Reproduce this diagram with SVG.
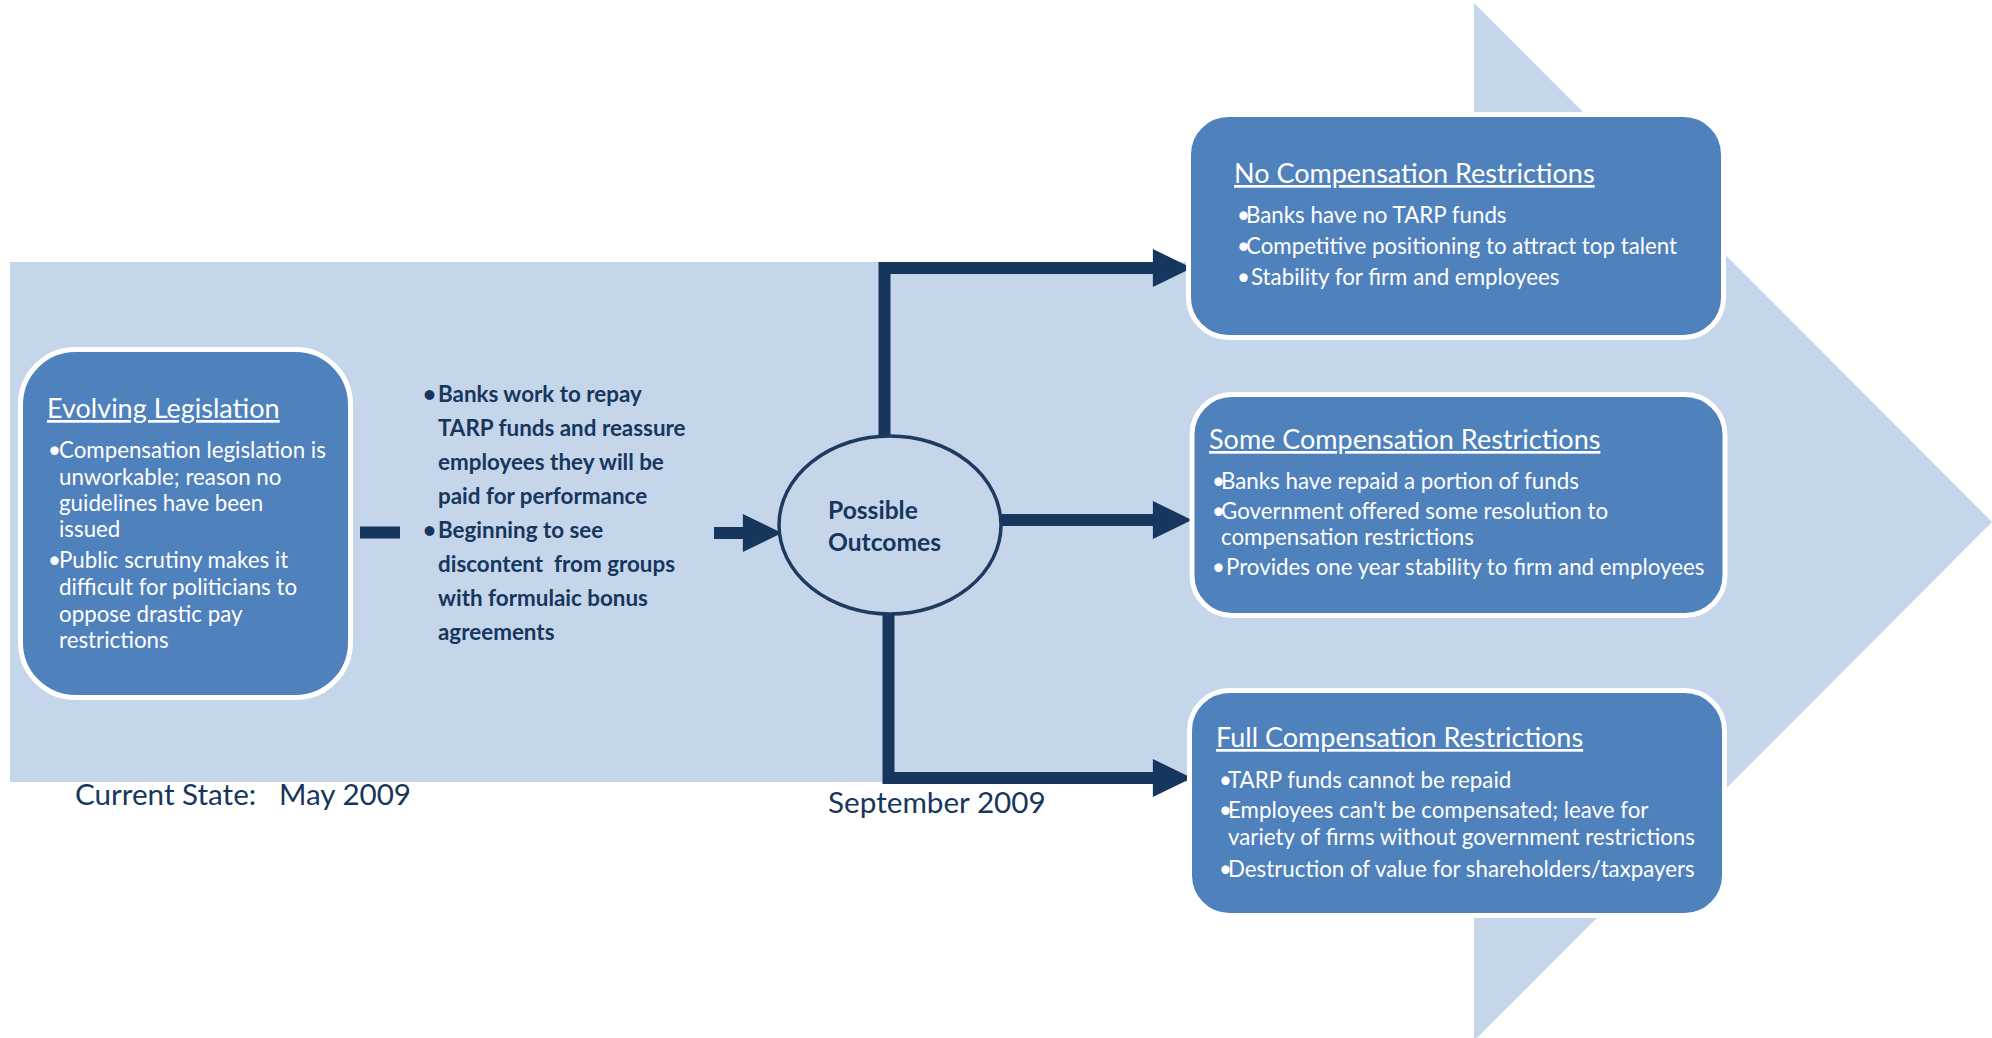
<svg xmlns="http://www.w3.org/2000/svg" width="1992" height="1038" viewBox="0 0 1992 1038">
<defs>
<style>
.bg{fill:#C5D5EA}
.box{fill:#4F81BD;stroke:#FFFFFF;stroke-width:5}
.wt{font-family:Lato,"Liberation Sans",sans-serif;fill:#FFFFFF;font-size:22.3px}
.ttl{font-size:27px;text-decoration:underline}
.dk{font-family:Lato,"Liberation Sans",sans-serif;fill:#17365D}
.bd{font-weight:bold;font-size:22.4px}
.conn{fill:none;stroke:#17365D;stroke-width:12;stroke-linejoin:miter}
.ell{fill:#C5D5EA;stroke:#1F3A60;stroke-width:3.5}
</style>
<marker id="ah" markerUnits="userSpaceOnUse" markerWidth="40" markerHeight="38" viewBox="0 0 37 36" refX="2" refY="18" orient="auto">
<path d="M0,0 L37,18 L0,36 Z" fill="#17365D"/>
</marker>
</defs>
<rect width="1992" height="1038" fill="#FFFFFF"/>
<path class="bg" d="M10,262 H1474 V3 L1992,522 L1474,1041 V782 H10 Z"/>

<g id="connectors">
<line class="conn" x1="360" y1="532.5" x2="400" y2="532.5" stroke-width="11"/>
<line class="conn" x1="714" y1="533" x2="745" y2="533" stroke-width="11" marker-end="url(#ah)"/>
<path class="conn" d="M884.5,437 V268 H1155" marker-end="url(#ah)"/>
<line class="conn" x1="1002" y1="520" x2="1155" y2="520" stroke-width="13" marker-end="url(#ah)"/>
<path class="conn" d="M888.5,613 V778 H1155" marker-end="url(#ah)"/>
</g>

<g id="evolving-legislation">
<rect class="box" x="20.5" y="349.5" width="330" height="348" rx="55" ry="55"/>
<text class="wt ttl" x="47" y="418">Evolving Legislation</text>
<text class="wt" x="48" y="458">•</text>
<text class="wt" x="59" y="458">Compensation legislation is</text>
<text class="wt" x="59" y="485">unworkable; reason no</text>
<text class="wt" x="59" y="511">guidelines have been</text>
<text class="wt" x="59" y="537">issued</text>
<text class="wt" x="48" y="568">•</text>
<text class="wt" x="59" y="568">Public scrutiny makes it</text>
<text class="wt" x="59" y="595">difficult for politicians to</text>
<text class="wt" x="59" y="622">oppose drastic pay</text>
<text class="wt" x="59" y="648">restrictions</text>
</g>

<g id="current-actions">
<text class="dk bd" x="423" y="402">•</text>
<text class="dk bd" x="438" y="402">Banks work to repay</text>
<text class="dk bd" x="438" y="436">TARP funds and reassure</text>
<text class="dk bd" x="438" y="470">employees they will be</text>
<text class="dk bd" x="438" y="504">paid for performance</text>
<text class="dk bd" x="423" y="538">•</text>
<text class="dk bd" x="438" y="538">Beginning to see</text>
<text class="dk bd" x="438" y="572" xml:space="preserve">discontent  from groups</text>
<text class="dk bd" x="438" y="606">with formulaic bonus</text>
<text class="dk bd" x="438" y="640">agreements</text>
</g>

<g id="possible-outcomes">
<ellipse class="ell" cx="890" cy="525" rx="111" ry="89"/>
<text class="dk" x="828" y="519" font-weight="bold" font-size="24.6">Possible</text>
<text class="dk" x="828" y="551" font-weight="bold" font-size="24.6">Outcomes</text>
</g>

<g id="no-compensation">
<rect class="box" x="1188.5" y="114.5" width="535" height="223" rx="40" ry="40"/>
<text class="wt ttl" x="1234" y="183">No Compensation Restrictions</text>
<text class="wt" x="1237" y="223">•</text>
<text class="wt" x="1246" y="223">Banks have no TARP funds</text>
<text class="wt" x="1237" y="254">•</text>
<text class="wt" x="1246" y="254">Competitive positioning to attract top talent</text>
<text class="wt" x="1237" y="285">•</text>
<text class="wt" x="1251" y="285">Stability for firm and employees</text>
</g>

<g id="some-compensation">
<rect class="box" x="1192" y="394.5" width="533" height="221" rx="40" ry="40"/>
<text class="wt ttl" x="1209" y="449">Some Compensation Restrictions</text>
<text class="wt" x="1212" y="489">•</text>
<text class="wt" x="1221" y="489">Banks have repaid a portion of funds</text>
<text class="wt" x="1212" y="519">•</text>
<text class="wt" x="1221" y="519">Government offered some resolution to</text>
<text class="wt" x="1221" y="545">compensation restrictions</text>
<text class="wt" x="1212" y="575">•</text>
<text class="wt" x="1226" y="575">Provides one year stability to firm and employees</text>
</g>

<g id="full-compensation">
<rect class="box" x="1189.5" y="690.5" width="535" height="225" rx="40" ry="40"/>
<text class="wt ttl" x="1216" y="747">Full Compensation Restrictions</text>
<text class="wt" x="1219" y="788">•</text>
<text class="wt" x="1228" y="788">TARP funds cannot be repaid</text>
<text class="wt" x="1219" y="818">•</text>
<text class="wt" x="1228" y="818">Employees can't be compensated; leave for</text>
<text class="wt" x="1228" y="845">variety of firms without government restrictions</text>
<text class="wt" x="1219" y="877">•</text>
<text class="wt" x="1228" y="877">Destruction of value for shareholders/taxpayers</text>
</g>

<g id="dates">
<text class="dk" x="75" y="805" font-size="29.6" xml:space="preserve">Current State:   May 2009</text>
<text class="dk" x="828" y="813" font-size="29.7">September 2009</text>
</g>
</svg>
